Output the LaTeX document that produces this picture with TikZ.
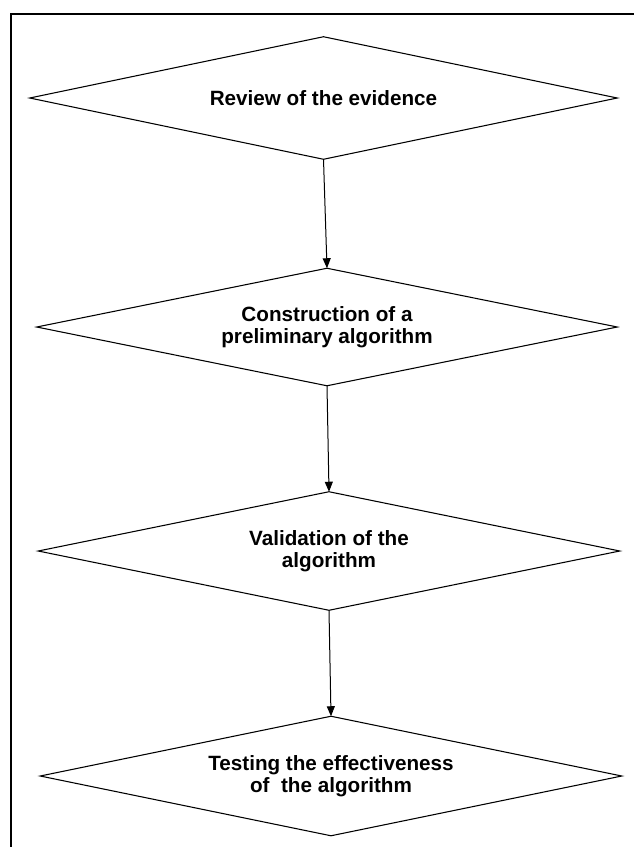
\documentclass[tikz,border=0pt]{standalone}
\usepackage{fontspec}
\setmainfont{Liberation Sans}
\usetikzlibrary{arrows.meta}
\begin{document}
\begin{tikzpicture}[x=0.75pt,y=-0.75pt,
  dia/.style={rectangle,inner sep=0pt,align=center,
    font=\bfseries\fontsize{15.5}{16.5}\selectfont},
  diaborder/.style={line width=0.8pt,line join=miter},
  conn/.style={line width=0.75pt,-{Triangle[length=7.5pt,width=6pt]}}]
\useasboundingbox (0,0) rectangle (634,847);
\coordinate (tl) at (11,14);
\coordinate (tr) at (634,14);
\coordinate (bl) at (11,847);
\draw[line width=1pt] (tr) -- (tl) -- (bl);
\node[dia,minimum width=587*0.75pt,minimum height=122*0.75pt] (d1) at (323.5,98) {Review of the evidence};
\node[dia,minimum width=580*0.75pt,minimum height=117*0.75pt] (d2) at (327,327) {Construction of a\\preliminary algorithm};
\node[dia,minimum width=581*0.75pt,minimum height=118*0.75pt] (d3) at (329,551) {Validation of the\\algorithm};
\node[dia,minimum width=581*0.75pt,minimum height=119*0.75pt] (d4) at (331,776) {Testing the effectiveness\\of~ the algorithm};
\foreach \d in {d1,d2,d3,d4}
  \draw[diaborder] (\d.west) -- (\d.north) -- (\d.east) -- (\d.south) -- cycle;
\draw[conn] (d1.south) -- (d2.north);
\draw[conn] (d2.south) -- (d3.north);
\draw[conn] (d3.south) -- (d4.north);
\end{tikzpicture}
\end{document}
